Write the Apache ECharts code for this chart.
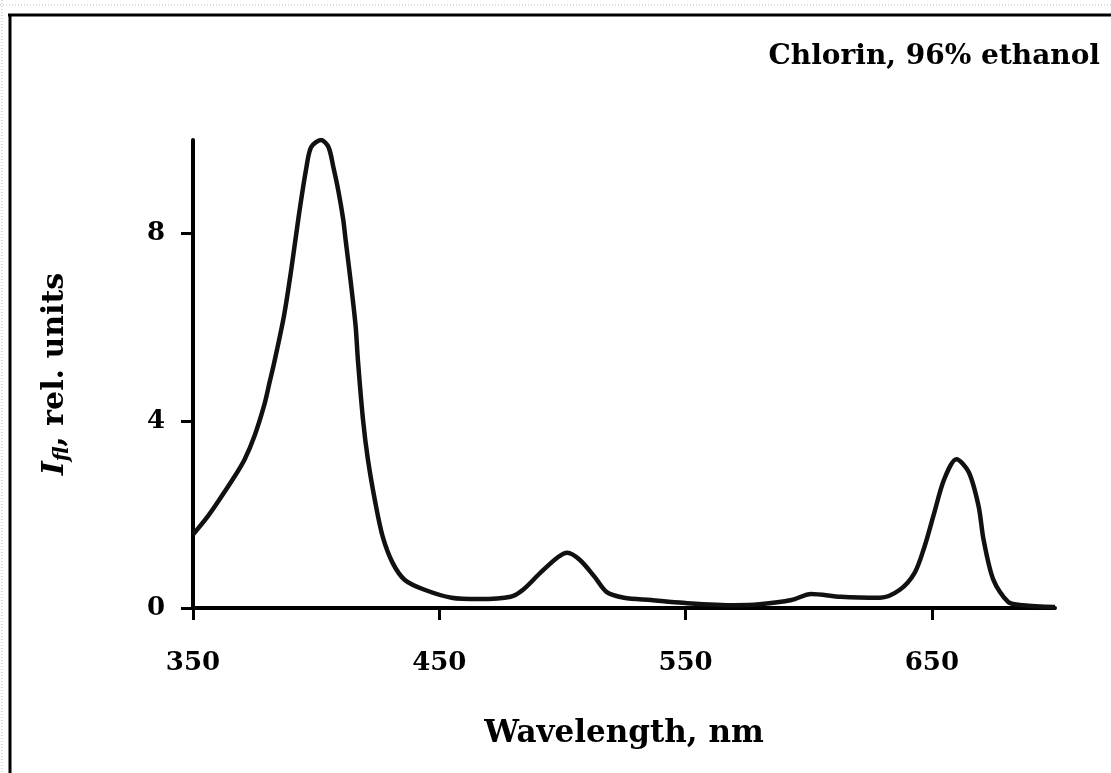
<!DOCTYPE html>
<html>
<head>
<meta charset="utf-8">
<script src="https://cdn.jsdelivr.net/npm/echarts@6/dist/echarts.min.js"></script>
<style>
html,body{margin:0;padding:0;background:#fff;}
#chart{width:1111px;height:773px;}
</style>
</head>
<body>
<div id="chart"></div>
<script>
// Data
var wavelength = [350,356,360,367,371,375,379,381,383,387,390,393,396,398,402,405,407,409,411,412,414,416,417,419,421,424,427,431,436,444,455,466,479,484,491,498,502,507,513,518,525,536,549,570,580,593,601,613,629,637,643,647,651,655,660,665,669,671,675,681,687,700];
var intensity  = [1.57,1.96,2.26,2.82,3.18,3.68,4.35,4.80,5.25,6.26,7.27,8.40,9.40,9.85,10.0,9.85,9.42,8.92,8.30,7.85,6.99,6.04,5.27,4.04,3.18,2.26,1.53,0.97,0.60,0.39,0.22,0.19,0.24,0.39,0.75,1.08,1.18,1.03,0.67,0.34,0.22,0.17,0.11,0.06,0.08,0.17,0.30,0.24,0.22,0.39,0.75,1.31,2.04,2.75,3.18,2.90,2.17,1.46,0.60,0.13,0.06,0.02];
var xTicks = [350,450,550,650];
var yTicks = [0,4,8];
var titleText = 'Chlorin, 96% ethanol';
var xName = 'Wavelength, nm';

var points = wavelength.map(function(w,i){return [w,intensity[i]];});
var FONT = 'DejaVu Serif';

var chart = echarts.init(document.getElementById('chart'), null, {renderer:'canvas'});
chart.setOption({
  backgroundColor:'#fff',
  animation:false,
  title:{
    text:titleText, right:11, top:43, padding:0,
    textStyle:{fontFamily:FONT, fontWeight:'bold', fontSize:28, color:'#000'}
  },
  graphic:[
    {type:'line', shape:{x1:0,y1:5,x2:1111,y2:5}, style:{stroke:'#bbb',lineWidth:1,lineDash:[1,2]}},
    {type:'line', shape:{x1:2,y1:0,x2:2,y2:773}, style:{stroke:'#bbb',lineWidth:1,lineDash:[1,2]}},
    {type:'line', shape:{x1:8,y1:15,x2:1111,y2:15}, style:{stroke:'#000',lineWidth:3}},
    {type:'line', shape:{x1:10,y1:14,x2:10,y2:773}, style:{stroke:'#000',lineWidth:3}}
  ],
  grid:{left:193, right:56, top:140, bottom:165},
  xAxis:{
    type:'value', min:350, max:700,
    name:xName, nameLocation:'middle', nameGap:110,
    nameTextStyle:{fontFamily:FONT, fontWeight:'bold', fontSize:31, color:'#000'},
    axisLine:{show:true, lineStyle:{color:'#000', width:4}},
    axisTick:{show:true, customValues:xTicks, length:12, lineStyle:{color:'#000', width:3}},
    axisLabel:{customValues:xTicks, margin:42, fontFamily:FONT, fontWeight:'bold', fontSize:26, color:'#000'},
    splitLine:{show:false}
  },
  yAxis:{
    type:'value', min:0, max:10,
    name:'{i|I}{sub|fl}{n|, rel. units}', nameLocation:'middle', nameGap:120, nameRotate:90,
    nameTextStyle:{
      fontFamily:FONT, fontWeight:'bold', fontSize:30, color:'#000',
      rich:{
        i:{fontFamily:FONT, fontWeight:'bold', fontStyle:'italic', fontSize:30, lineHeight:36, verticalAlign:'middle', color:'#000'},
        sub:{fontFamily:FONT, fontWeight:'bold', fontStyle:'italic', fontSize:20, lineHeight:20, verticalAlign:'bottom', color:'#000'},
        n:{fontFamily:FONT, fontWeight:'bold', fontSize:30, lineHeight:36, verticalAlign:'middle', color:'#000'}
      }
    },
    axisLine:{show:true, lineStyle:{color:'#000', width:4}},
    axisTick:{show:true, customValues:yTicks, length:12, lineStyle:{color:'#000', width:3}},
    axisLabel:{customValues:yTicks, margin:28, fontFamily:FONT, fontWeight:'bold', fontSize:26, color:'#000'},
    splitLine:{show:false}
  },
  series:[{
    type:'line', data:points, smooth:0.3, showSymbol:false,
    lineStyle:{color:'#111', width:4.5}
  }]
});
</script>
</body>
</html>
